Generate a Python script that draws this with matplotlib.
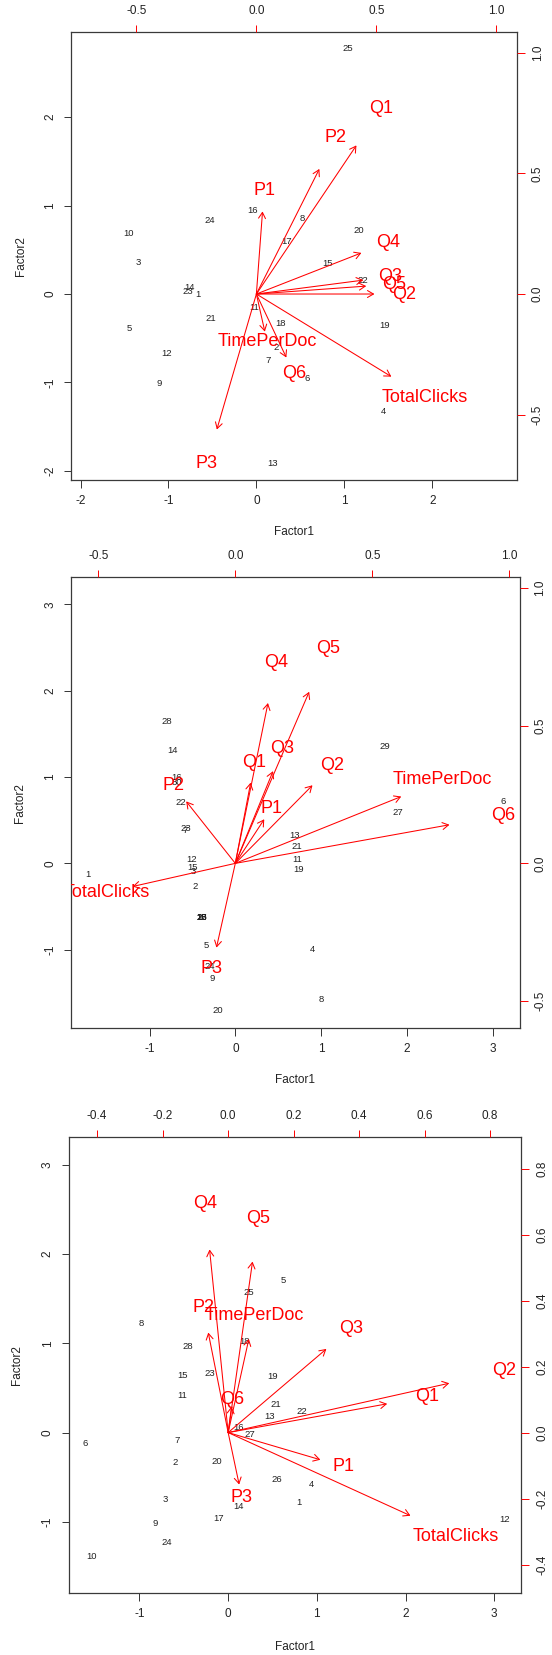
import numpy as np
import matplotlib
matplotlib.use("Agg")
import matplotlib.pyplot as plt
from matplotlib.patches import FancyArrowPatch
from matplotlib.ticker import MultipleLocator, FuncFormatter

plt.rcParams['font.family'] = ['Liberation Sans', 'DejaVu Sans']
plt.rcParams['axes.unicode_minus'] = False

# ------------------------------------------------------------
# Data (scores = numbered observations, loadings = red variables)
# ------------------------------------------------------------
var_names = ["P1", "P2", "P3", "Q1", "Q2", "Q3", "Q4", "Q5", "Q6",
             "TotalClicks", "TimePerDoc"]

# panel 1
p1_ids = list(range(1, 26))
p1_f1 = [-0.667, 0.227, -1.340, 1.449, -1.444, 0.578, 0.136, 0.518, -1.105, -1.451,
         -0.031, -1.018, 0.187, -0.755, 0.804, -0.039, 0.339, 0.274, 1.461, 1.170,
         -0.520, 1.214, -0.779, -0.529, 1.035]
p1_f2 = [0.000, -0.603, 0.359, -1.331, -0.392, -0.958, -0.747, 0.856, -1.011, 0.687,
         -0.155, -0.675, -1.916, 0.072, 0.347, 0.950, 0.596, -0.328, -0.354, 0.713,
         -0.279, 0.151, 0.034, 0.829, 2.776]
p1_load1 = [0.032, 0.328, -0.206, 0.521, 0.615, 0.557, 0.547, 0.572, 0.156, 0.703, 0.044]
p1_load2 = [0.428, 0.648, -0.702, 0.770, 0.000, 0.072, 0.213, 0.041, -0.329, -0.428, -0.195]

# panel 2
p2_ids = [1, 2, 3, 4, 5, 6, 7, 8, 9, 10, 11, 12, 13, 14, 15, 16, 17, 18, 19, 20,
          21, 22, 23, 24, 25, 26, 27, 28, 29, 30]
p2_f1 = [-1.717, -0.469, -0.486, 0.897, -0.334, 3.120, -0.590, 1.004, -0.273, -0.388,
         0.726, -0.510, 0.694, -0.734, -0.498, -0.682, -0.388, -0.388, 0.743, -0.204,
         0.714, -0.640, -0.579, -0.302, -0.388, -0.388, 1.889, -0.799, 1.738, -0.682]
p2_f2 = [-0.124, -0.263, -0.097, -0.997, -0.955, 0.714, 0.385, -1.576, -1.333, -0.630,
         0.046, 0.050, 0.320, 1.313, -0.046, 0.997, -0.630, -0.630, -0.066, -1.703,
         0.192, 0.702, 0.401, -1.198, -0.630, -0.630, 0.587, 1.641, 1.348, 0.934]
p2_load1 = [0.132, -0.224, -0.086, 0.070, 0.352, 0.172, 0.149, 0.337, 0.977, -0.469, 0.757]
p2_load2 = [0.200, 0.281, -0.382, 0.366, 0.354, 0.418, 0.727, 0.778, 0.175, -0.105, 0.303]

# panel 3
p3_ids = list(range(1, 29))
p3_f1 = [0.798, -0.596, -0.714, 0.944, 0.620, -1.610, -0.577, -0.983, -0.826, -1.536,
         -0.518, 3.116, 0.470, 0.115, -0.509, 0.122, -0.110, 0.181, 0.498, -0.130,
         0.541, 0.826, -0.210, -0.695, 0.233, 0.549, 0.241, -0.458]
p3_f2 = [-0.788, -0.334, -0.754, -0.584, 1.705, -0.123, -0.086, 1.226, -1.022, -1.386,
         0.416, -0.974, 0.182, -0.829, 0.642, 0.056, -0.962, 1.021, 0.631, -0.323,
         0.312, 0.241, 0.664, -1.226, 1.567, -0.528, -0.022, 0.958]
p3_load1 = [0.352, -0.076, 0.042, 0.607, 0.844, 0.375, -0.071, 0.093, 0.013, 0.696, 0.079]
p3_load2 = [-0.103, 0.379, -0.197, 0.109, 0.187, 0.317, 0.694, 0.648, 0.099, -0.315, 0.355]

W, H = 552, 1655
DARK = "#222222"


def unsigned_range(v):
    v = np.asarray(v, dtype=float)
    return np.array([-abs(v.min()), abs(v.max())])


def fmt1(v, pos):
    return "%.1f" % (0.0 if abs(v) < 1e-9 else v)


def fmt0(v, pos):
    return "%d" % int(round(v))


def biplot(fig, box, ids, f1, f2, load1, load2, sec_step, xlab_off, ylab_off):
    l, r, t, b = box
    rect = [l / W, 1 - b / H, (r - l) / W, (b - t) / H]

    # limits the way R's biplot does it
    rx = unsigned_range(f1)
    ry = unsigned_range(f2)
    lo, hi = min(rx[0], ry[0]), max(rx[1], ry[1])
    ly1 = unsigned_range(load1)
    ly2 = unsigned_range(load2)
    base = np.array([lo, hi])
    ratio = max(np.max(ly1 / base), np.max(ly2 / base))
    pad = 0.04 * (hi - lo)
    lim = (lo - pad, hi + pad)

    # ------------------------------------------------------------
    # Scores
    # ------------------------------------------------------------
    ax = fig.add_axes(rect)
    ax.set_xlim(lim)
    ax.set_ylim(lim)
    for s, x, y in zip(ids, f1, f2):
        ax.text(x, y, str(s), ha="center", va="center", fontsize=6.8,
                color=DARK, clip_on=True)
    ax.xaxis.set_major_locator(MultipleLocator(1))
    ax.yaxis.set_major_locator(MultipleLocator(1))
    ax.xaxis.set_major_formatter(FuncFormatter(fmt0))
    ax.yaxis.set_major_formatter(FuncFormatter(fmt0))
    ax.tick_params(direction="out", length=5.4, width=0.7, color="#333333",
                   labelsize=8.5, labelcolor=DARK, pad=5.3)
    ax.tick_params(axis="y", labelrotation=90)
    for lbl in ax.get_yticklabels():
        lbl.set_va("center")
    for sp in ax.spines.values():
        sp.set_color("#3a3a3a")
        sp.set_linewidth(0.9)
    ax.set_xlabel("Factor1", fontsize=8.5, color=DARK)
    ax.set_ylabel("Factor2", fontsize=8.5, color=DARK)
    ax.xaxis.set_label_coords(0.5, -xlab_off / (b - t))
    ax.xaxis.label.set_va("center")
    ax.yaxis.set_label_coords(-ylab_off / (r - l), 0.5)
    ax.yaxis.label.set_va("center")

    # ------------------------------------------------------------
    # Loadings on their own scale (top / right axes)
    # ------------------------------------------------------------
    ax2 = fig.add_axes(rect, frameon=False)
    ax2.patch.set_visible(False)
    ax2.set_xlim(lim[0] * ratio, lim[1] * ratio)
    ax2.set_ylim(lim[0] * ratio, lim[1] * ratio)
    ax2.xaxis.tick_top()
    ax2.yaxis.tick_right()
    ax2.xaxis.set_major_locator(MultipleLocator(sec_step))
    ax2.yaxis.set_major_locator(MultipleLocator(sec_step))
    ax2.xaxis.set_major_formatter(FuncFormatter(fmt1))
    ax2.yaxis.set_major_formatter(FuncFormatter(fmt1))
    ax2.tick_params(direction="out", length=5.4, width=0.7, color="red",
                    labelsize=8.5, labelcolor=DARK, pad=5.3)
    ax2.tick_params(axis="y", labelrotation=90)
    for lbl in ax2.get_yticklabels():
        lbl.set_va("center")

    for name, x, y in zip(var_names, load1, load2):
        ax2.add_patch(FancyArrowPatch(
            (0, 0), (0.8 * x, 0.8 * y),
            arrowstyle="->,head_length=4.3,head_width=2.5",
            mutation_scale=1, color="red", lw=0.75, shrinkA=0, shrinkB=0))
        ax2.text(x, y, name, ha="center", va="center", fontsize=13,
                 color="red", clip_on=True)
    return ax, ax2


def main():
    fig = plt.figure(figsize=(W / 100, H / 100), dpi=100)
    fig.patch.set_facecolor("white")

    biplot(fig, (71.4, 517.0, 32.0, 480.0), p1_ids, p1_f1, p1_f2,
           p1_load1, p1_load2, 0.5, 51.7, 50.4)
    biplot(fig, (71.4, 519.6, 577.3, 1028.3), p2_ids, p2_f1, p2_f2,
           p2_load1, p2_load2, 0.5, 51.7, 51.3)
    biplot(fig, (68.6, 521.3, 1137.3, 1593.3), p3_ids, p3_f1, p3_f2,
           p3_load1, p3_load2, 0.2, 53.4, 51.8)

    fig.savefig("out.png", dpi=100)


if __name__ == "__main__":
    main()
